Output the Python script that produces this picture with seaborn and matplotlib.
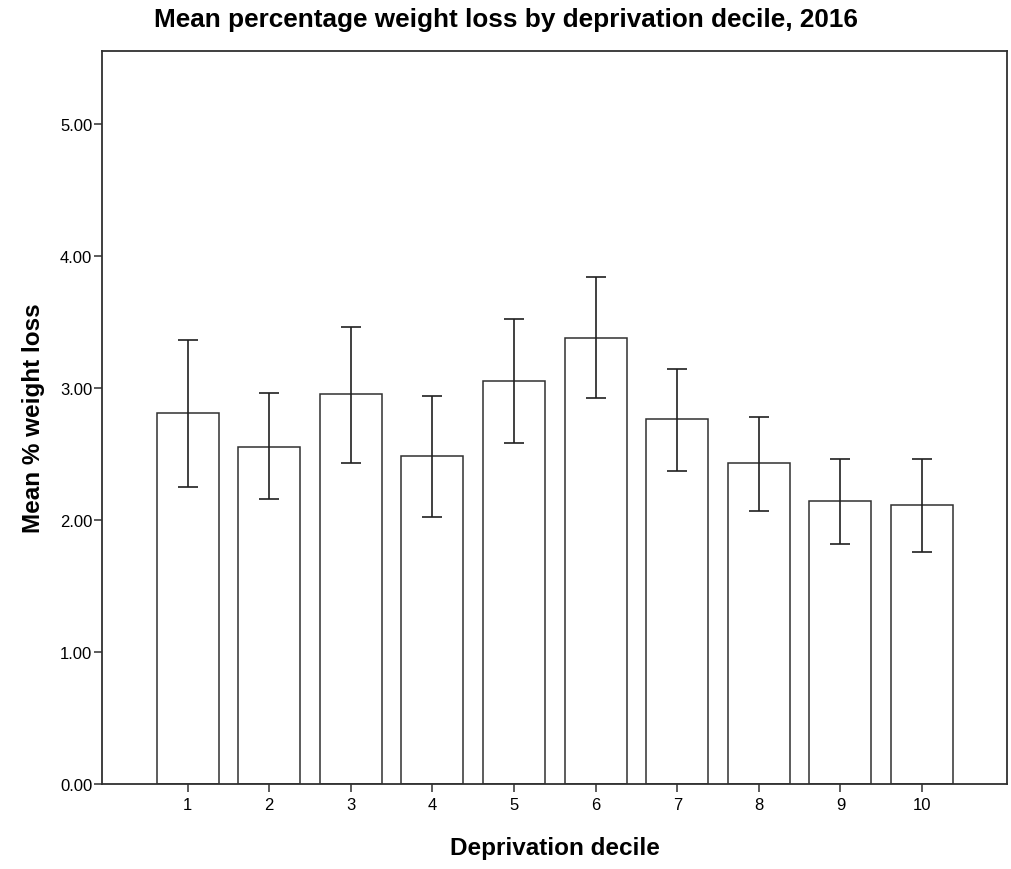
import numpy as np
import pandas as pd
import matplotlib
matplotlib.use("Agg")
import matplotlib.pyplot as plt
import seaborn as sns

# values
deciles = ["1", "2", "3", "4", "5", "6", "7", "8", "9", "10"]
mean_loss = [2.81, 2.55, 2.95, 2.48, 3.05, 3.38, 2.76, 2.43, 2.14, 2.11]
ci_low = [2.25, 2.16, 2.43, 2.02, 2.58, 2.92, 2.37, 2.07, 1.82, 1.76]
ci_high = [3.36, 2.96, 3.46, 2.94, 3.52, 3.84, 3.14, 2.78, 2.46, 2.46]

df = pd.DataFrame({"decile": deciles, "mean": mean_loss,
                   "low": ci_low, "high": ci_high})

sns.set_theme(style="white")
plt.rcParams["font.family"] = ["Liberation Sans", "DejaVu Sans"]
plt.rcParams["text.color"] = "black"

fig = plt.figure(figsize=(10.12, 8.7), dpi=100)
ax = fig.add_axes([0.1008, 0.0977, 0.8942, 0.8425])

sns.barplot(data=df, x="decile", y="mean", order=deciles, errorbar=None,
            color="white", edgecolor="#303030", linewidth=1.1,
            width=0.76, ax=ax)

pos = np.arange(len(deciles))
yerr = [df["mean"] - df["low"], df["high"] - df["mean"]]
ax.errorbar(pos, df["mean"], yerr=yerr, fmt="none", ecolor="#202020",
            elinewidth=1.2, capsize=7.5, capthick=1.2)

ax.set_xlim(-1.05, 10.04)
ax.set_ylim(0, 5.55)
ax.set_yticks([0, 1, 2, 3, 4, 5])
ax.yaxis.set_major_formatter(matplotlib.ticker.FormatStrFormatter("%.2f"))

for sp in ax.spines.values():
    sp.set_visible(True)
    sp.set_color("#303030")
    sp.set_linewidth(1.3)

ax.tick_params(axis="both", direction="out", length=6, width=1.1,
               color="#303030", labelsize=12, labelcolor="black",
               left=True, bottom=True)
ax.tick_params(axis="y", pad=1)
ax.tick_params(axis="x", pad=3)

ax.set_xlabel("Deprivation decile", fontsize=17.5, fontweight="bold", color="black")
ax.set_ylabel("Mean % weight loss", fontsize=17.5, fontweight="bold", color="black")
ax.xaxis.label.set_va("center")
ax.yaxis.label.set_va("center")
ax.xaxis.set_label_coords(0.5, -0.086)
ax.yaxis.set_label_coords(-0.076, 0.5)

fig.text(0.5, 0.977, "Mean percentage weight loss by deprivation decile, 2016",
         fontsize=18.8, fontweight="bold", ha="center", va="center", color="black")

fig.savefig("out.png", dpi=100, facecolor="white")
